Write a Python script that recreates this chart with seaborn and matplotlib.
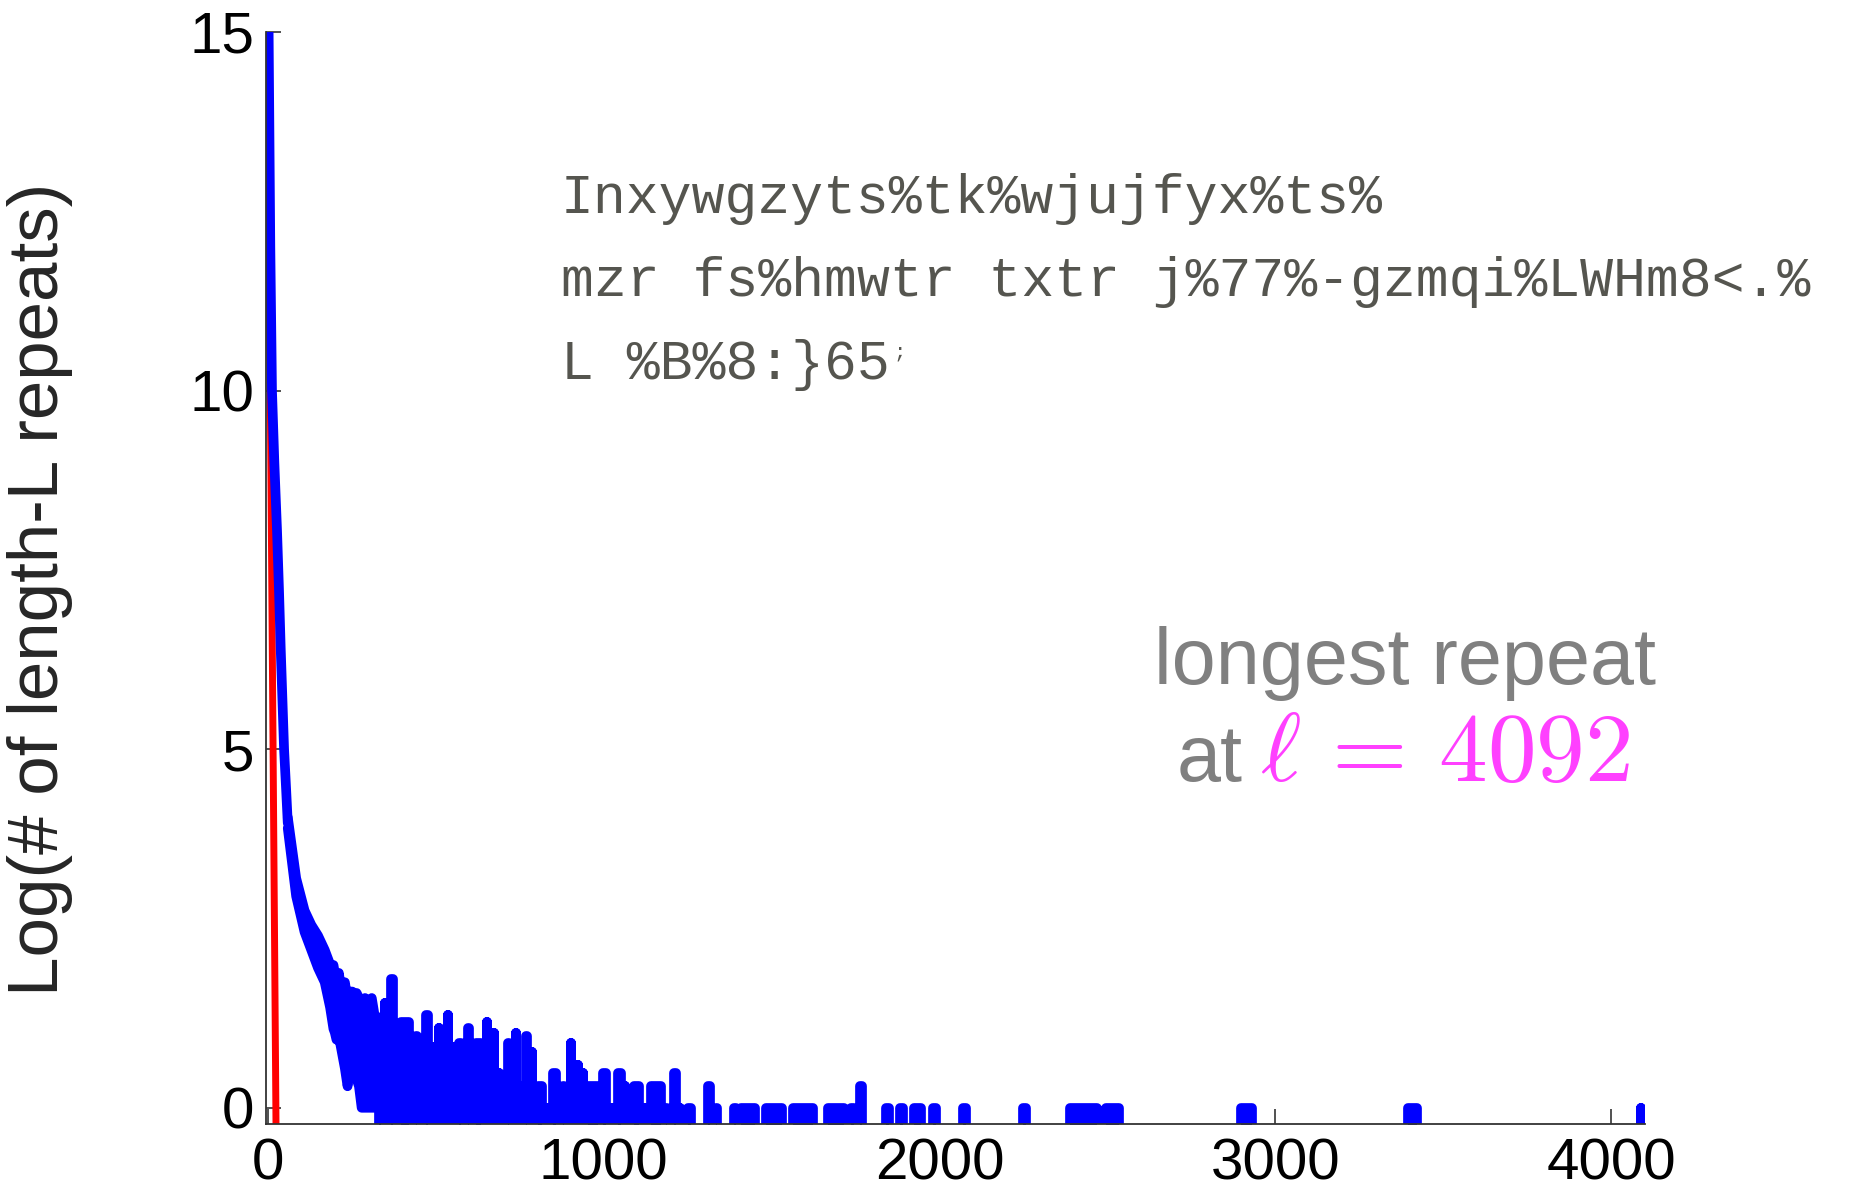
import numpy as np
import pandas as pd
import seaborn as sns
import matplotlib.pyplot as plt

# smooth start of the curve (length L, log10 # of repeats)
head_L = [1, 3, 8, 13, 20, 28, 34, 39, 44, 49, 55, 60]
head_y = [15.6, 15.0, 12.0, 10.0, 9.0, 8.05, 7.2, 6.4, 5.7, 5.0, 4.45, 3.97]

# noisy band before the first empty lengths: upper / lower edge
band_L = [60, 85, 110, 130, 150, 170, 186, 196, 200, 205, 212, 220, 230, 238, 246, 252,
          258, 265, 272, 280, 290, 300, 310, 318, 330]
band_hi = [4.05, 3.2, 2.75, 2.55, 2.4, 2.2, 2.0, 1.99, 1.88, 1.62, 1.88, 1.62, 1.75, 1.5, 1.62, 1.62,
           1.45, 1.6, 1.53, 1.35, 1.53, 1.45, 1.53, 1.3, 1.25]
band_lo = [3.9, 2.95, 2.45, 2.2, 1.95, 1.75, 1.4, 1.1, 1.05, 0.95, 1.0, 0.8, 0.55, 0.3, 0.6, 0.7,
           0.5, 0.4, 0.3, 0.0, 0.0, 0.0, 0.0, 0.0, 0.0]

# sparse part: runs of lengths with repeats (start, end, log10 count)
block_start = [325, 345, 360, 390, 434, 464, 486, 504, 528, 548, 563, 588, 613, 647, 667, 684,
               692, 707, 730, 752, 761, 781, 796, 831, 841, 871, 895, 915, 930, 945, 990, 1019,
               1034, 1059, 1074, 1084, 1119, 1134, 1178, 1203, 1223, 1243, 1302, 1326, 1381, 1401,
               1476, 1555, 1660, 1729, 1754, 1833, 1873, 1917, 1972, 2061, 2240, 2379, 2489, 2889,
               3388, 4086]
block_end = [345, 355, 380, 430, 454, 484, 502, 518, 543, 563, 583, 608, 643, 662, 682, 692,
             707, 727, 747, 761, 781, 796, 826, 841, 866, 890, 910, 930, 945, 990, 1014, 1029,
             1059, 1069, 1084, 1114, 1134, 1178, 1198, 1223, 1233, 1268, 1326, 1346, 1401, 1460,
             1540, 1630, 1724, 1754, 1778, 1858, 1898, 1952, 1997, 2086, 2265, 2477, 2543, 2938,
             3430, 4092]
block_level = [1.25, 1.46, 1.79, 1.20, 1.0, 1.30, 0.85, 1.11, 1.30, 0.85, 0.90, 1.11, 0.90, 1.20, 1.04, 0.48,
               0.30, 0.90, 1.04, 0.30, 1.0, 0.78, 0.30, 0.0, 0.48, 0.30, 0.90, 0.60, 0.48, 0.30, 0.48, 0.0,
               0.48, 0.30, 0.0, 0.30, 0.0, 0.30, 0.0, 0.48, 0.0, 0.0, 0.30, 0.0, 0.0, 0.0,
               0.0, 0.0, 0.0, 0.0, 0.30, 0.0, 0.0, 0.0, 0.0, 0.0, 0.0, 0.0, 0.0, 0.0,
               0.0, 0.0]

# random-sequence expectation (red)
red_L = [1, 26]
red_y = [14.2, -0.85]

ZERO = -1.0  # lengths without repeats end up below the axis

xs, ys = [], []
for s, e, v in zip(block_start, block_end, block_level):
    a, b = s + 8, e - 8
    if b < a:
        a = b = (s + e) / 2
    xs += [a, a, b, b]
    ys += [ZERO, v, v, ZERO]
sparse = pd.DataFrame({'L': xs, 'y': ys})
head = pd.DataFrame({'L': head_L, 'y': head_y})
band = pd.DataFrame({'L': band_L, 'hi': band_hi, 'lo': band_lo})
red = pd.DataFrame({'L': red_L, 'y': red_y})

sns.set_style('ticks')
plt.rcParams['font.family'] = ['Liberation Sans', 'DejaVu Sans']
plt.rcParams['mathtext.fontset'] = 'cm'

fig = plt.figure(figsize=(18.56, 11.93), dpi=100)
ax = fig.add_axes([0.1431, 0.0578, 0.7432, 0.9154])

blue = '#0000ff'
line_kw = dict(sort=False, estimator=None, color=blue, linewidth=7,
               solid_joinstyle='round', solid_capstyle='round', ax=ax)
sns.lineplot(data=red, x='L', y='y', sort=False, estimator=None, color='#ff0000',
             linewidth=5, ax=ax)
sns.lineplot(data=head, x='L', y='y', **line_kw)
ax.fill_between(band['L'], band['lo'], band['hi'], color=blue, linewidth=0)
sns.lineplot(data=band, x='L', y='hi', **line_kw)
sns.lineplot(data=band, x='L', y='lo', **line_kw)
ax.fill_between(sparse['L'], sparse['y'], ZERO, color=blue, linewidth=0)
sns.lineplot(data=sparse, x='L', y='y', **line_kw)

ax.set_xlim(-6, 4100)
ax.set_ylim(-0.227, 15)
ax.set_xticks([0, 1000, 2000, 3000, 4000])
ax.set_yticks([0, 5, 10, 15])
sns.despine(ax=ax)
for sp in ['left', 'bottom']:
    ax.spines[sp].set_color('#333333')
    ax.spines[sp].set_linewidth(1.3)
ax.tick_params(direction='in', length=11, width=1.2, color='#333333', labelsize=42,
               labelcolor='black')
ax.tick_params(axis='x', pad=10)
ax.tick_params(axis='y', pad=8)
ax.set_xlabel('')
ax.set_ylabel('Log(# of length-L repeats)', fontsize=51)
ax.yaxis.set_label_coords(-0.1395, 0.49)

mono_font = ['Liberation Mono', 'DejaVu Sans Mono']
mono = dict(family=mono_font, fontsize=39.5, color='#55554f')
fig.text(0.3023, 0.8215, 'Inxywgzyts%tk%wjujfyx%ts%', va='baseline', **mono)
fig.text(0.3023, 0.7519, 'mzr fs%hmwtr txtr j%77%-gzmqi%LWHm8<.%', va='baseline', **mono)
fig.text(0.3023, 0.6823, 'L %B%8:}65', va='baseline', **mono)
fig.text(0.4815, 0.700, ';', va='baseline', family=mono_font, fontsize=15, color='#55554f')

fig.text(0.757, 0.4267, 'longest repeat', ha='center', va='baseline', fontsize=57,
         color='#808080')
fig.text(0.6697, 0.3453, 'at', ha='right', va='baseline', fontsize=57, color='#808080')
fig.text(0.679, 0.3453, r'$\ell\, =\, 4092$', ha='left', va='baseline', fontsize=70,
         color='#ff40ff')

fig.savefig('out.png', dpi=100)
